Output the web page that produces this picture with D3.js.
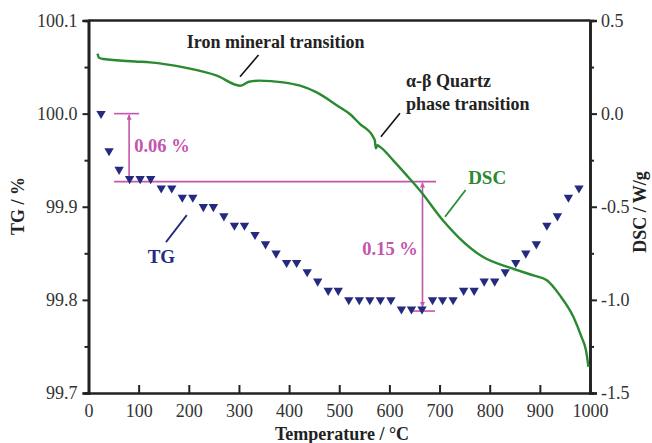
<!DOCTYPE html>
<html>
<head>
<meta charset="utf-8">
<script src="https://cdn.jsdelivr.net/npm/d3@7"></script>
<style>
  body { margin: 0; background: #fff; }
  svg text { font-family: "Liberation Serif", "Times New Roman", serif; }
</style>
</head>
<body>
<div id="chart"></div>
<script>
// TG points (triangles), temperature in °C and mass in %
const tgTemp = [25, 41, 61, 82, 103, 124, 145, 166, 187, 208, 229, 249, 270, 291, 311,
  332, 353, 374, 395, 415, 436, 457, 478, 498, 519, 540, 561, 582, 603, 624, 644, 665,
  686, 706, 727, 748, 769, 789, 810, 831, 852, 872, 893, 914, 935, 957, 978];
const tgVal = [100.00, 99.96, 99.94, 99.93, 99.93, 99.93, 99.92, 99.92, 99.91, 99.91, 99.90, 99.90, 99.89, 99.88, 99.88,
  99.87, 99.86, 99.85, 99.84, 99.84, 99.83, 99.82, 99.81, 99.81, 99.80, 99.80, 99.80, 99.80, 99.80, 99.79, 99.79, 99.79,
  99.80, 99.80, 99.80, 99.81, 99.81, 99.82, 99.82, 99.83, 99.84, 99.85, 99.86, 99.88, 99.89, 99.91, 99.92];

// DSC curve, W/g
const dscTemp = [18, 21, 30, 93, 123, 190, 256, 302, 320, 340, 388, 422, 455, 501, 521, 541,
  568, 571, 573, 576, 581, 608, 638, 661, 707, 741, 787, 840, 887, 914, 940, 967, 983, 992, 997];
const dscVal = [0.322, 0.300, 0.293, 0.280, 0.275, 0.248, 0.204, 0.150, 0.171, 0.177, 0.168, 0.150, 0.114, 0.034, -0.002, -0.055,
  -0.127, -0.145, -0.186, -0.170, -0.178, -0.252, -0.342, -0.413, -0.574, -0.672, -0.770, -0.827, -0.869, -0.895, -0.976, -1.092, -1.199, -1.271, -1.360];

const xTicks = [0, 100, 200, 300, 400, 500, 600, 700, 800, 900, 1000];
const tgTicks = [99.7, 99.8, 99.9, 100.0, 100.1];
const tgMinor = [99.75, 99.85, 99.95, 100.05];
const dscTicks = [-1.5, -1.0, -0.5, 0.0, 0.5];
const dscMinor = [-1.25, -0.75, -0.25, 0.25];

// mass loss steps (TG %)
const lossTop = 100.00, lossMid = 99.927, lossLow = 99.788;
const lossLabels = ["0.06 %", "0.15 %"];

const width = 652, height = 443;
const svg = d3.select("#chart").append("svg")
  .attr("width", width).attr("height", height);

const x = d3.scaleLinear().domain([0, 1000]).range([88.5, 590]);
const yTG = d3.scaleLinear().domain([99.7, 100.1]).range([393, 20.5]);
const yDSC = d3.scaleLinear().domain([-1.5, 0.5]).range([393, 20.5]);

const fmt = d => d3.format(".1f")(d).replace("\u2212", "-");
const axisColor = "#222", labelColor = "#333";
const magenta = "#c455ac", green = "#2a8a32", navy = "#232a80";

// axes
svg.append("g").attr("transform", "translate(0,393)")
  .call(d3.axisBottom(x).tickValues(xTicks).tickSizeInner(-8).tickSizeOuter(0).tickPadding(11).tickFormat(d3.format("d")));
svg.append("g").attr("transform", "translate(88.5,0)")
  .call(d3.axisLeft(yTG).tickValues(tgTicks).tickSize(6).tickPadding(5).tickFormat(fmt));
svg.append("g").attr("transform", "translate(88.5,0)")
  .call(d3.axisLeft(yTG).tickValues(tgMinor).tickSize(4).tickFormat(""));
svg.append("g").attr("transform", "translate(590,0)")
  .call(d3.axisRight(yDSC).tickValues(dscTicks).tickSize(7).tickPadding(4).tickFormat(fmt));
svg.append("g").attr("transform", "translate(590,0)")
  .call(d3.axisRight(yDSC).tickValues(dscMinor).tickSize(4).tickFormat(""));

svg.selectAll(".domain").attr("stroke", axisColor).attr("stroke-width", 2.6);
svg.selectAll(".tick line").attr("stroke", axisColor).attr("stroke-width", 2);
svg.selectAll(".tick text").attr("fill", labelColor).style("font-size", "18px");

// top frame
svg.append("line").attr("x1", 88.5).attr("x2", 590).attr("y1", 20.5).attr("y2", 20.5)
  .attr("stroke", axisColor).attr("stroke-width", 2.6);

// axis titles
svg.append("text").attr("x", 342).attr("y", 440).attr("text-anchor", "middle")
  .attr("font-weight", "bold").style("font-size", "18px").attr("fill", "#222")
  .text("Temperature / °C");
svg.append("text").attr("transform", "translate(24,206) rotate(-90)").attr("text-anchor", "middle")
  .attr("font-weight", "bold").style("font-size", "18px").attr("fill", "#222")
  .text("TG / %");
svg.append("text").attr("transform", "translate(646,212) rotate(-90)").attr("text-anchor", "middle")
  .attr("font-weight", "bold").style("font-size", "18px").attr("fill", "#222")
  .text("DSC / W/g");

// arrow markers
const defs = svg.append("defs");
defs.append("marker").attr("id", "ah").attr("viewBox", "0 0 10 10")
  .attr("refX", 10).attr("refY", 5).attr("markerWidth", 5).attr("markerHeight", 5)
  .attr("orient", "auto-start-reverse").attr("markerUnits", "userSpaceOnUse")
  .append("path").attr("d", "M0,0L10,5L0,10z").attr("fill", magenta);

// mass loss annotation
const mg = svg.append("g").attr("stroke", magenta).attr("stroke-width", 1.6);
mg.append("line").attr("x1", x(51)).attr("x2", x(101)).attr("y1", yTG(lossTop)).attr("y2", yTG(lossTop));
mg.append("line").attr("x1", x(51)).attr("x2", x(693)).attr("y1", yTG(lossMid)).attr("y2", yTG(lossMid));
mg.append("line").attr("x1", x(641)).attr("x2", x(691)).attr("y1", yTG(lossLow)).attr("y2", yTG(lossLow));
mg.append("line").attr("x1", x(81)).attr("x2", x(81)).attr("y1", yTG(lossTop) + 1).attr("y2", yTG(lossMid) - 1)
  .attr("marker-start", "url(#ah)").attr("marker-end", "url(#ah)");
mg.append("line").attr("x1", x(666)).attr("x2", x(666)).attr("y1", yTG(lossMid) + 1).attr("y2", yTG(lossLow) - 4)
  .attr("marker-start", "url(#ah)").attr("marker-end", "url(#ah)");
svg.append("text").attr("x", x(91)).attr("y", yTG(99.959)).attr("fill", magenta)
  .attr("font-weight", "bold").style("font-size", "18.5px").text(lossLabels[0]);
svg.append("text").attr("x", x(546)).attr("y", yTG(99.848)).attr("fill", magenta)
  .attr("font-weight", "bold").style("font-size", "18.5px").text(lossLabels[1]);

// DSC curve
const dscData = dscTemp.map((t, i) => [t, dscVal[i]]);
svg.append("path").datum(dscData)
  .attr("fill", "none").attr("stroke", green).attr("stroke-width", 2.4)
  .attr("stroke-linejoin", "round")
  .attr("d", d3.line().x(d => x(d[0])).y(d => yDSC(d[1])).curve(d3.curveMonotoneX));

// TG triangles
const tgData = tgTemp.map((t, i) => [t, tgVal[i]]);
svg.selectAll(".tg").data(tgData).enter().append("path")
  .attr("class", "tg")
  .attr("d", d3.symbol(d3.symbolTriangle, 38))
  .attr("transform", d => `translate(${x(d[0])},${yTG(d[1])}) rotate(180)`)
  .attr("fill", navy);

// callouts
svg.append("line").attr("x1", x(302)).attr("y1", yDSC(0.198)).attr("x2", x(339)).attr("y2", yDSC(0.315))
  .attr("stroke", "#111").attr("stroke-width", 1.6);
svg.append("text").attr("x", x(196)).attr("y", yDSC(0.355)).attr("font-weight", "bold")
  .style("font-size", "18px").attr("fill", "#222").text("Iron mineral transition");

svg.append("line").attr("x1", x(583)).attr("y1", yDSC(-0.124)).attr("x2", x(621)).attr("y2", yDSC(0.002))
  .attr("stroke", "#111").attr("stroke-width", 1.6);
svg.append("text").attr("x", x(633)).attr("y", yDSC(0.143)).attr("font-weight", "bold")
  .style("font-size", "18px").attr("fill", "#222").text("α-β Quartz");
svg.append("text").attr("x", x(633)).attr("y", yDSC(0.019)).attr("font-weight", "bold")
  .style("font-size", "18px").attr("fill", "#222").text("phase transition");

svg.append("line").attr("x1", x(711)).attr("y1", yDSC(-0.554)).attr("x2", x(752)).attr("y2", yDSC(-0.41))
  .attr("stroke", green).attr("stroke-width", 1.8);
svg.append("text").attr("x", x(757)).attr("y", yDSC(-0.378)).attr("font-weight", "bold")
  .style("font-size", "19px").attr("fill", green).text("DSC");

svg.append("line").attr("x1", x(154.5)).attr("y1", yTG(99.862)).attr("x2", x(196)).attr("y2", yTG(99.891))
  .attr("stroke", navy).attr("stroke-width", 1.8);
svg.append("text").attr("x", x(118)).attr("y", yTG(99.840)).attr("font-weight", "bold")
  .style("font-size", "19px").attr("fill", navy).text("TG");
</script>
</body>
</html>
